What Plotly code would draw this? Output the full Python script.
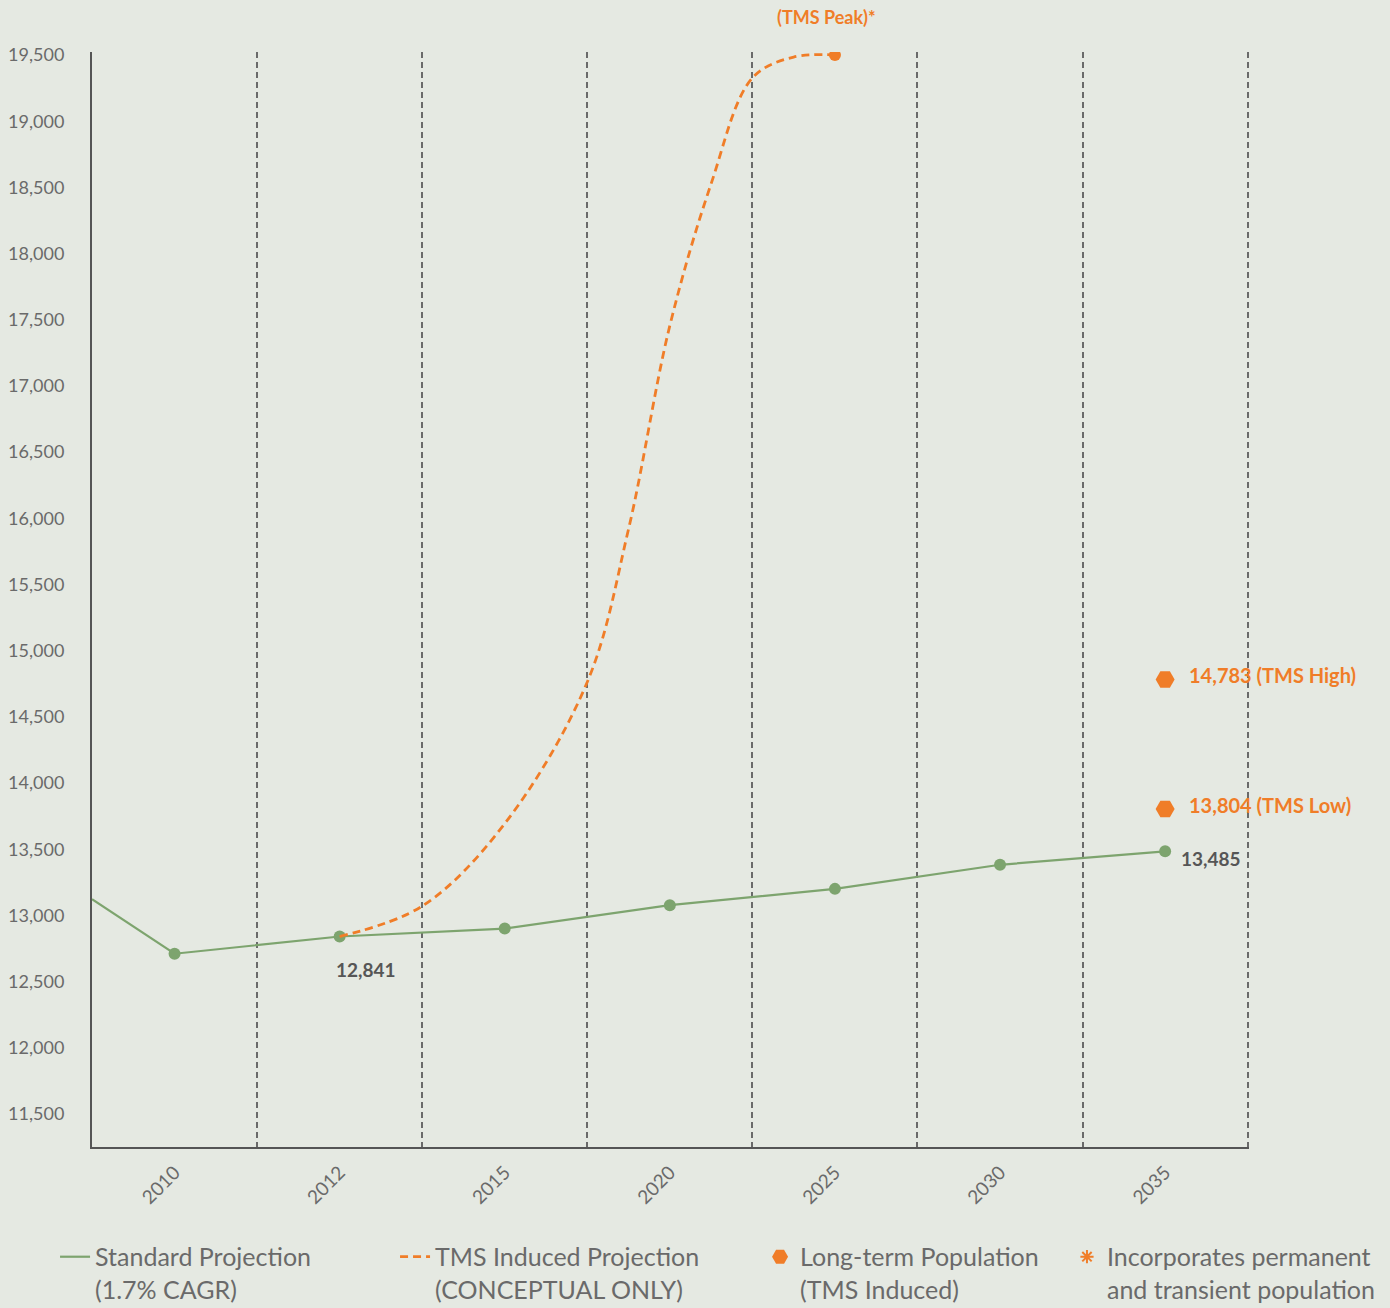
import plotly.graph_objects as go

# ---------------- data ----------------
YEARS = ["2010", "2012", "2015", "2020", "2025", "2030", "2035"]
YEAR_INDEX = [0, 1, 2, 3, 4, 5, 6]

STANDARD_LEAD_IN_X = -0.5
STANDARD_LEAD_IN = 13123
STANDARD = [12711, 12841, 12901, 13078, 13201, 13383, 13485]

TMS_X = [1, 1.5, 2, 2.5, 2.75, 3, 3.25, 3.5, 3.75, 4]
TMS = [12841, 13071, 13694, 14764, 15920, 17456, 18527, 19327, 19485, 19500]

PEAK_X = 4
PEAK = 19500
PEAK_LABEL = "(TMS Peak)*"

LONG_TERM_X = [6, 6]
LONG_TERM = [14783, 13804]
LONG_TERM_LABELS = ["14,783 (TMS High)", "13,804 (TMS Low)"]

POINT_LABEL_IDX = [1, 6]
POINT_LABELS = ["12,841", "13,485"]

Y_TICKS = list(range(11500, 19501, 500))

# ---------------- style ----------------
BG = "#e5e9e2"
GREEN = "#7da46e"
ORANGE = "#f07d28"
AXIS = "#555555"
GRID = "#6a6a6a"
TXT = "#6a6a6a"
DARK = "#565656"
FONT = "Lato"

fig = go.Figure()

fig.add_trace(go.Scatter(
    x=[STANDARD_LEAD_IN_X] + YEAR_INDEX, y=[STANDARD_LEAD_IN] + STANDARD,
    mode="lines", line=dict(color=GREEN, width=2.2),
    name="Standard Projection<br>(1.7% CAGR)", legend="legend"))
fig.add_trace(go.Scatter(
    x=YEAR_INDEX, y=STANDARD, mode="markers",
    marker=dict(color=GREEN, size=12), showlegend=False))

fig.add_trace(go.Scatter(
    x=TMS_X, y=TMS, mode="lines",
    line=dict(color=ORANGE, width=2.8, dash="8px,5px", shape="spline", smoothing=1),
    name="TMS Induced Projection<br>(CONCEPTUAL ONLY)", legend="legend2"))

fig.add_trace(go.Scatter(
    x=[PEAK_X], y=[PEAK], mode="markers",
    marker=dict(color=ORANGE, size=12), showlegend=False))

fig.add_trace(go.Scatter(
    x=LONG_TERM_X, y=LONG_TERM, mode="markers",
    marker=dict(color=ORANGE, size=19, symbol="hexagon2"),
    name="Long-term Population<br>(TMS Induced)", legend="legend3"))

fig.add_trace(go.Scatter(
    x=[None], y=[None], mode="markers",
    marker=dict(color=ORANGE, size=11, symbol="asterisk-open",
                line=dict(color=ORANGE, width=2)),
    name="Incorporates permanent<br>and transient population", legend="legend4"))

annotations = []
annotations.append(dict(x=PEAK_X, y=PEAK, text=PEAK_LABEL, showarrow=False,
                        xshift=-8, yshift=38,
                        font=dict(family=FONT, size=18, color=ORANGE, weight=700)))
for xv, yv, lab in zip(LONG_TERM_X, LONG_TERM, LONG_TERM_LABELS):
    annotations.append(dict(x=xv, y=yv, text=lab, showarrow=False, xanchor="left",
                            xshift=22, yshift=4,
                            font=dict(family=FONT, size=20, color=ORANGE, weight=700)))
shifts = {1: (26, -33), 6: (46, -7)}
for idx, lab in zip(POINT_LABEL_IDX, POINT_LABELS):
    dx, dy = shifts[idx]
    annotations.append(dict(x=YEAR_INDEX[idx], y=STANDARD[idx], text=lab, showarrow=False,
                            xshift=dx, yshift=dy,
                            font=dict(family=FONT, size=19, color=DARK, weight=700)))

leg_common = dict(xanchor="left", yanchor="top", xref="container", yref="container",
                  y=0.0566, bgcolor="rgba(0,0,0,0)",
                  valign="top", font=dict(family=FONT, size=25, color=TXT),
                  orientation="h")

fig.update_layout(
    width=1390, height=1308,
    margin=dict(l=92, r=141, t=52, b=161),
    paper_bgcolor=BG, plot_bgcolor=BG,
    font=dict(family=FONT, color=TXT),
    showlegend=True,
    legend=dict(x=0.0396, **leg_common),
    legend2=dict(x=0.2842, **leg_common),
    legend3=dict(x=0.5468, **leg_common),
    legend4=dict(x=0.7676, **leg_common),
    annotations=annotations,
    xaxis=dict(range=[-0.5, 6.508], tickmode="array", tickvals=YEAR_INDEX, ticktext=YEARS,
               tickangle=-45, showgrid=False, zeroline=False, automargin=False,
               showline=True, linecolor=AXIS, linewidth=2, ticks="",
               ticklabelstandoff=5,
               tickfont=dict(family=FONT, size=19, color=TXT),
               minor=dict(tick0=0.5, dtick=1, showgrid=True, gridcolor=GRID,
                          griddash="6px,4px", gridwidth=1.7)),
    yaxis=dict(range=[11251, 19523], tickmode="array", tickvals=Y_TICKS,
               tickformat=",", showgrid=False, zeroline=False, automargin=False,
               showline=True, linecolor=AXIS, linewidth=2, ticks="",
               ticklabelstandoff=22,
               tickfont=dict(family=FONT, size=18, color=TXT)),
)

fig.write_html("out.html", config={"displayModeBar": False},
               post_script="document.body.style.margin='0';")
